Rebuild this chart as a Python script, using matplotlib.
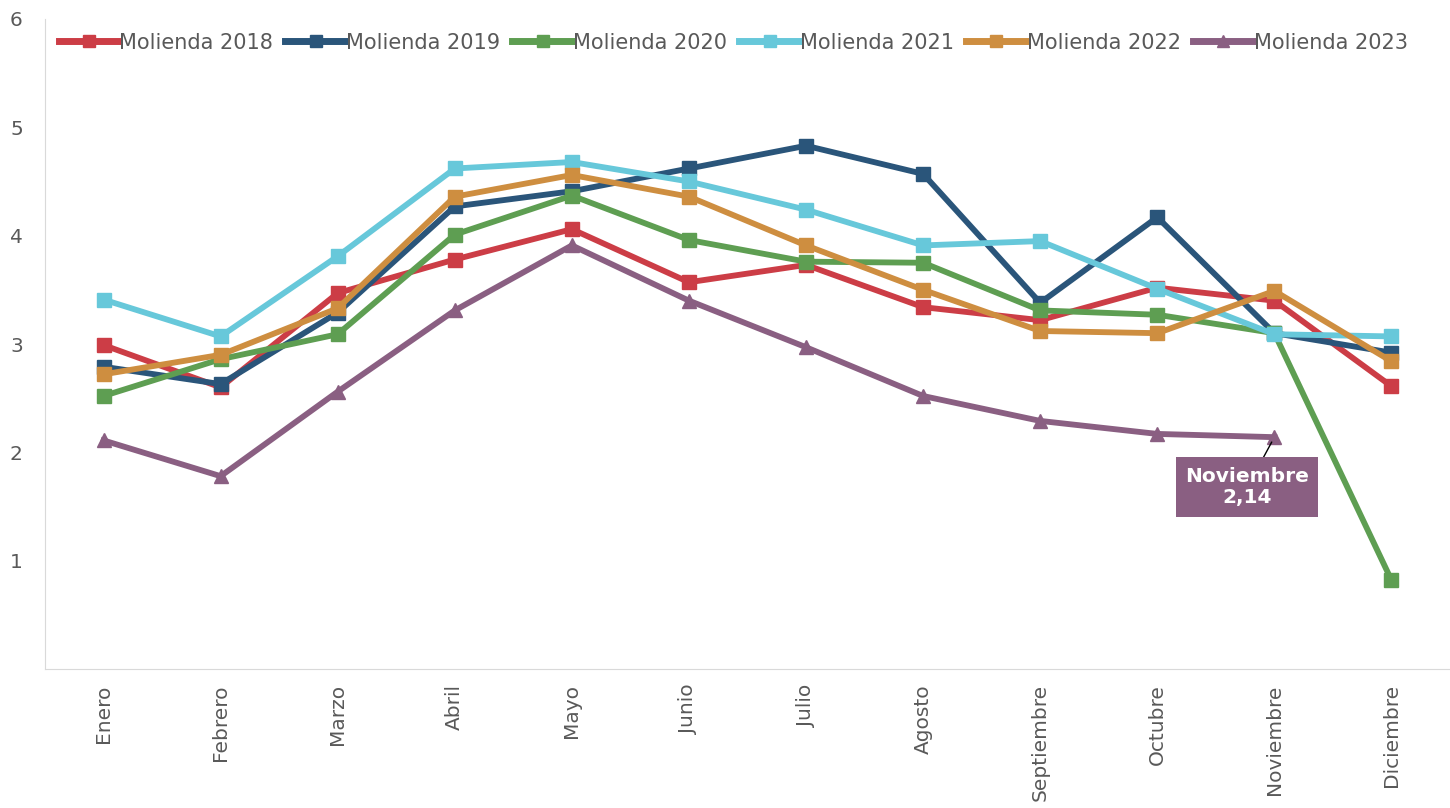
import numpy as np
import matplotlib
matplotlib.use('Agg')
from matplotlib import pyplot as plt

meses = ['Enero', 'Febrero', 'Marzo', 'Abril', 'Mayo', 'Junio', 'Julio',
         'Agosto', 'Septiembre', 'Octubre', 'Noviembre', 'Diciembre']

m2018 = [2.99, 2.60, 3.47, 3.78, 4.06, 3.57, 3.73, 3.34, 3.22, 3.52, 3.40, 2.61]
m2019 = [2.79, 2.63, 3.29, 4.27, 4.41, 4.62, 4.83, 4.57, 3.38, 4.17, 3.10, 2.92]
m2020 = [2.52, 2.86, 3.09, 4.01, 4.37, 3.96, 3.76, 3.75, 3.31, 3.27, 3.10, 0.82]
m2021 = [3.41, 3.07, 3.81, 4.62, 4.68, 4.50, 4.24, 3.91, 3.95, 3.51, 3.09, 3.07]
m2022 = [2.72, 2.90, 3.33, 4.36, 4.56, 4.36, 3.91, 3.50, 3.12, 3.10, 3.49, 2.84]
m2023 = [2.11, 1.78, 2.56, 3.31, 3.91, 3.40, 2.97, 2.52, 2.29, 2.17, 2.14]

series = [('Molienda 2018', m2018, '#CC3D46', 's'),
          ('Molienda 2019', m2019, '#2A557A', 's'),
          ('Molienda 2020', m2020, '#5E9E52', 's'),
          ('Molienda 2021', m2021, '#67C8DA', 's'),
          ('Molienda 2022', m2022, '#CE8E40', 's'),
          ('Molienda 2023', m2023, '#8A5F82', '^')]

gris = '#595959'
fig = plt.figure(figsize=(14.5, 8.08), dpi=100)
ax = fig.add_axes([45 / 1450, 1 - 669 / 808, 1405 / 1450, 650 / 808])

for nombre, vals, color, mk in series:
    x = np.arange(len(vals))
    ax.plot(x, vals, color=color, lw=4.2, marker=mk, markersize=10,
            label=nombre, solid_joinstyle='round')

ax.set_xlim(-0.5, 11.5)
ax.set_ylim(0, 6)
ax.set_xticks(range(len(meses)))
ax.set_xticklabels(meses, rotation=90, fontsize=14.5, color=gris)
ax.set_yticks([1, 2, 3, 4, 5, 6])
ax.set_yticklabels(['1', '2', '3', '4', '5', '6'], fontsize=14.5, color=gris)
ax.tick_params(length=0)
ax.tick_params(axis='x', pad=11)
ax.tick_params(axis='y', pad=16)
for s in ['top', 'right']:
    ax.spines[s].set_visible(False)
for s in ['left', 'bottom']:
    ax.spines[s].set_color('#D9D9D9')

leg = ax.legend(loc='upper left', bbox_to_anchor=(0.0, 1.0), ncol=6, frameon=False,
                fontsize=15, handlelength=2.9, handletextpad=0.0, columnspacing=0.6,
                labelcolor=gris, borderaxespad=0.25)
for h in leg.legend_handles:
    h.set_markersize(8)
    h.set_linewidth(5)

ax.annotate('Noviembre\n2,14', xy=(10, m2023[10]), xytext=(9.77, 1.68),
            ha='center', va='center', fontsize=14.5, fontweight='bold', color='white',
            bbox=dict(boxstyle='square,pad=0.45', fc='#8A5F82', ec='none'),
            arrowprops=dict(arrowstyle='-', color='black', lw=1, shrinkA=0, shrinkB=4))

fig.savefig('out.png', dpi=100)
